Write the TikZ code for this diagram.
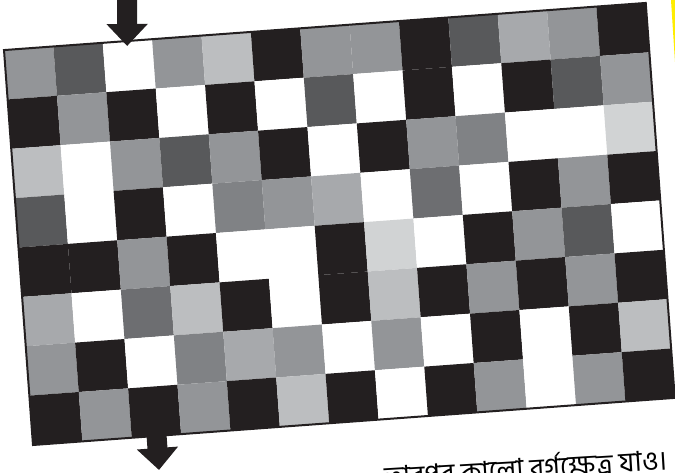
\documentclass[tikz,border=0pt]{standalone}
\usepackage{fontspec}
\newfontfamily\bengali[Script=Bengali]{Hind Siliguri}
\usetikzlibrary{arrows.meta}

\definecolor{gk}{HTML}{231F20}
\definecolor{gd}{HTML}{58595B}
\definecolor{ge}{HTML}{6D6E71}
\definecolor{gg}{HTML}{808285}
\definecolor{gm}{HTML}{939598}
\definecolor{gl}{HTML}{A7A9AC}
\definecolor{gs}{HTML}{BCBEC0}
\definecolor{gv}{HTML}{D1D3D4}
\definecolor{gw}{HTML}{FFFFFF}
\definecolor{marker}{HTML}{FFED00}

\begin{document}
\begin{tikzpicture}[x=1pt,y=1pt]
  \useasboundingbox (0,0) rectangle (675,473);
  \clip (0,0) rectangle (675,473);

  \tikzset{bigarrow/.style={gk, line width=20pt, -{Triangle[width=40pt,length=22pt]}}}

  \fill[marker] (671,473) -- (675,473) -- (675,411) -- cycle;

  \begin{scope}[shift={(33,28)}, rotate=4.2]
    \foreach \rowcols [count=\r] in {
      {gm,gd,gw,gm,gs,gk,gm,gm,gk,gd,gl,gm,gk},
      {gk,gm,gk,gw,gk,gw,gd,gw,gk,gw,gk,gd,gm},
      {gs,gw,gm,gd,gm,gk,gw,gk,gm,gg,gw,gw,gv},
      {gd,gw,gk,gw,gg,gm,gl,gw,ge,gw,gk,gm,gk},
      {gk,gk,gm,gk,gw,gw,gk,gv,gw,gk,gm,gd,gw},
      {gl,gw,ge,gs,gk,gw,gk,gs,gk,gm,gk,gm,gk},
      {gm,gk,gw,gg,gl,gm,gw,gm,gw,gk,gw,gk,gs},
      {gk,gm,gk,gm,gk,gs,gk,gw,gk,gm,gw,gm,gk}}
      \foreach \cc [count=\i] in \rowcols
        \fill[fill=\cc] ({(\i-1)*49.5},{(8-\r)*49.5}) rectangle ++(49.5,49.5);
    \draw[gk, line width=2pt] (0,0) rectangle (643.5,396);
    \coordinate (entry) at (3*49.5-25,396);
    \coordinate (exit) at (3*49.5-25,0);
  \end{scope}

  \coordinate (start) at (127,480);
  \coordinate (goal) at (159,3);
  \draw[bigarrow] (start) -- (entry |- 0,427);
  \draw[bigarrow] (exit |- 0,43) -- (goal);

  \node[font=\bengali\fontsize{27.5}{32}\selectfont, rotate=3.5, anchor=base west, inner sep=0pt]
    (caption) at (385,-14) {তারপর কালো বর্গক্ষেত্র যাও।};
\end{tikzpicture}
\end{document}
